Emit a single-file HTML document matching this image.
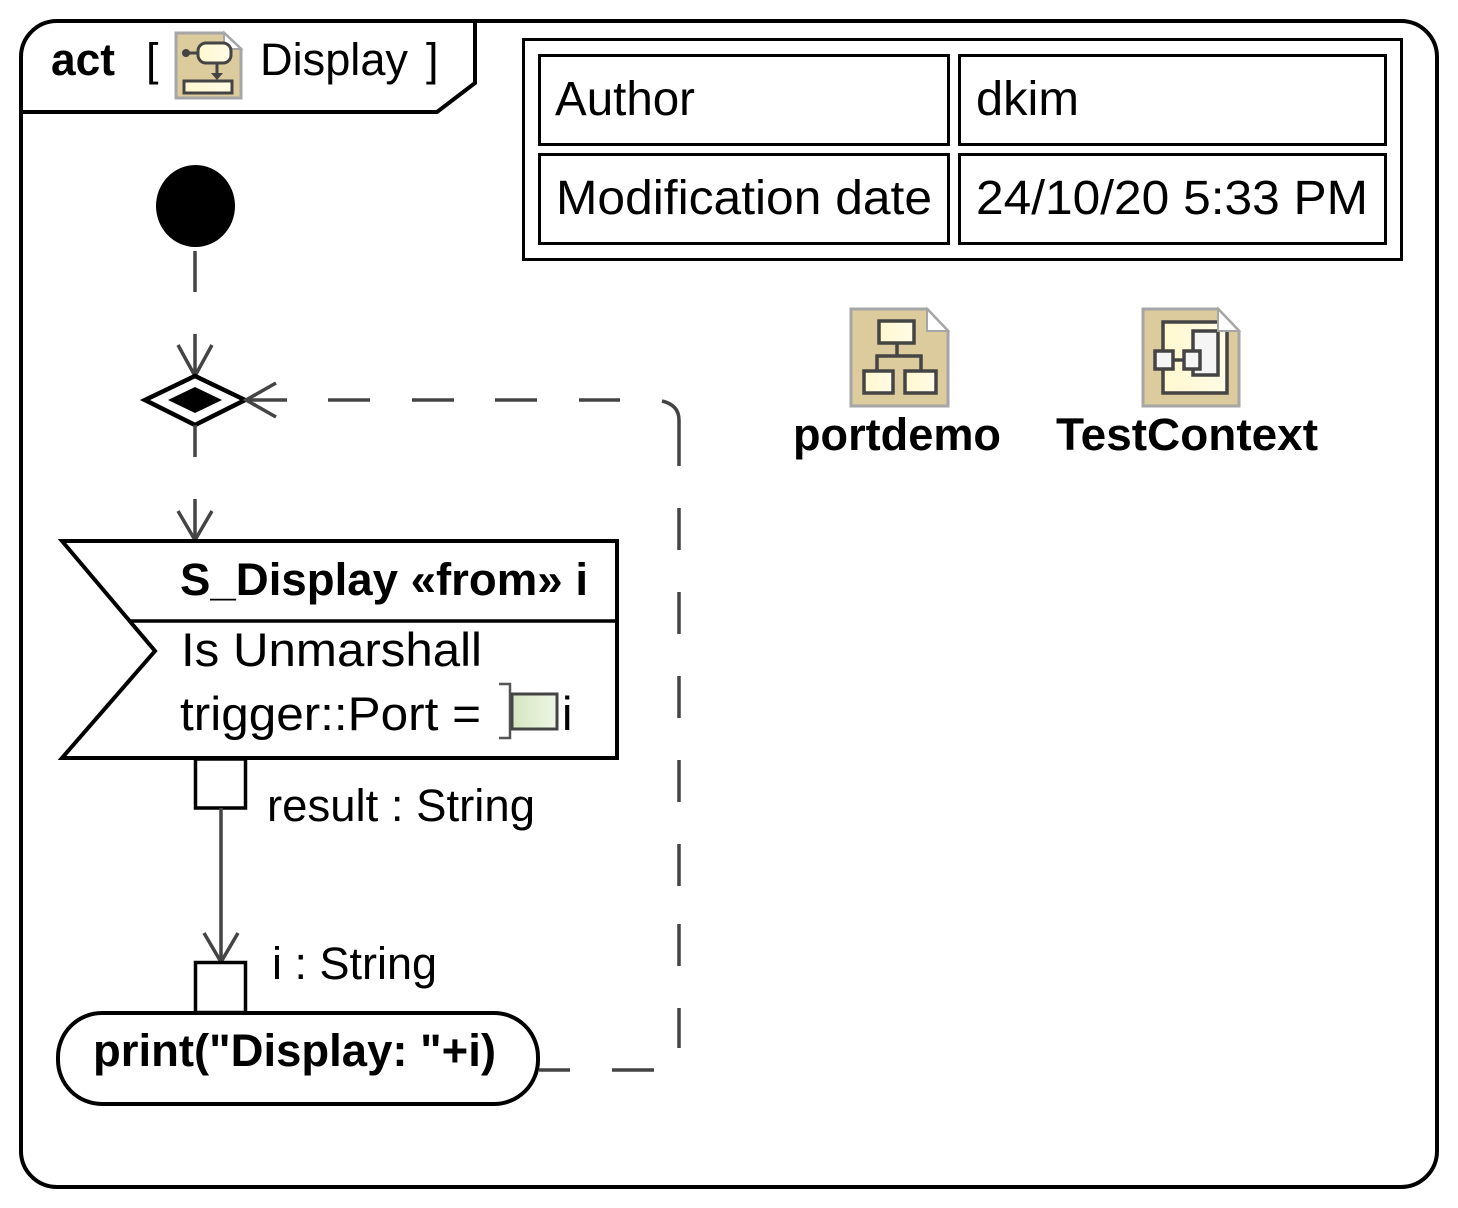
<!DOCTYPE html>
<html>
<head>
<meta charset="utf-8">
<style>
  html, body { margin:0; padding:0; background:#fff; }
  svg { display:block; }
  text { font-family: "Liberation Sans", Arial, sans-serif; fill:#000; }
  .b { font-weight:bold; }
</style>
</head>
<body>
<svg width="1458" height="1208" viewBox="0 0 1458 1208" xmlns="http://www.w3.org/2000/svg">
  <defs>
    <linearGradient id="ylw" x1="0" y1="0" x2="1" y2="0">
      <stop offset="0" stop-color="#fff8d0"/>
      <stop offset="1" stop-color="#fffbe6"/>
    </linearGradient>
    <linearGradient id="grn" x1="0" y1="0" x2="1" y2="0">
      <stop offset="0" stop-color="#d5e6c0"/>
      <stop offset="1" stop-color="#eef5e6"/>
    </linearGradient>
  </defs>

  <!-- Frame -->
  <rect x="21" y="21" width="1416" height="1166" rx="36" ry="36" fill="#fff" stroke="#000" stroke-width="4"/>
  <!-- Title tab -->
  <path d="M21,112 L437,112 L475,83 L475,21" fill="none" stroke="#000" stroke-width="4"/>
  <text x="51" y="75" class="b" font-size="45" textLength="64" lengthAdjust="spacingAndGlyphs">act</text>
  <text x="146" y="75" font-size="45">[</text>
  <!-- title icon -->
  <path d="M176,33 L224,33 L241,49 L241,98 L176,98 Z" fill="#dccb9c" stroke="#a6a6a6" stroke-width="3"/>
  <path d="M224,33 L224,49 L241,49 Z" fill="#fff" stroke="#a6a6a6" stroke-width="2"/>
  <circle cx="186" cy="53" r="4" fill="#444"/>
  <line x1="186" y1="53" x2="198" y2="53" stroke="#444" stroke-width="3"/>
  <rect x="198" y="43" width="33" height="20" rx="8" ry="8" fill="url(#ylw)" stroke="#444" stroke-width="3"/>
  <line x1="217" y1="63" x2="217" y2="76" stroke="#444" stroke-width="3"/>
  <path d="M211,73 L223,73 L217,80 Z" fill="#444"/>
  <rect x="184" y="81" width="48" height="12" fill="url(#ylw)" stroke="#444" stroke-width="3"/>
  <text x="260" y="75" font-size="45" textLength="148" lengthAdjust="spacingAndGlyphs">Display</text>
  <text x="426" y="75" font-size="45">]</text>

  <!-- Table -->
  <rect x="523.5" y="39.5" width="878" height="220" fill="#fff" stroke="#000" stroke-width="3"/>
  <rect x="539.5" y="55.5" width="409" height="89" fill="#fff" stroke="#000" stroke-width="3"/>
  <rect x="959.5" y="55.5" width="426" height="89" fill="#fff" stroke="#000" stroke-width="3"/>
  <rect x="539.5" y="154.5" width="409" height="89" fill="#fff" stroke="#000" stroke-width="3"/>
  <rect x="959.5" y="154.5" width="426" height="89" fill="#fff" stroke="#000" stroke-width="3"/>
  <text x="555" y="115" font-size="48" textLength="140" lengthAdjust="spacingAndGlyphs">Author</text>
  <text x="976" y="115" font-size="48" textLength="103" lengthAdjust="spacingAndGlyphs">dkim</text>
  <text x="556" y="214" font-size="48" textLength="376" lengthAdjust="spacingAndGlyphs">Modification date</text>
  <text x="976" y="214" font-size="48" textLength="392" lengthAdjust="spacingAndGlyphs">24/10/20 5:33 PM</text>

  <!-- portdemo icon -->
  <path d="M851,309 L927,309 L948,331 L948,406 L851,406 Z" fill="#dccb9c" stroke="#a6a6a6" stroke-width="3"/>
  <path d="M927,309 L927,331 L948,331 Z" fill="#fff" stroke="#a6a6a6" stroke-width="2"/>
  <rect x="879" y="321" width="35" height="22" fill="url(#ylw)" stroke="#444" stroke-width="3.5"/>
  <path d="M897,343 L897,356 M877,370 L877,356 L921,356 L921,370" fill="none" stroke="#444" stroke-width="3.5"/>
  <rect x="864" y="371" width="29" height="22" fill="url(#ylw)" stroke="#444" stroke-width="3.5"/>
  <rect x="905" y="371" width="31" height="22" fill="url(#ylw)" stroke="#444" stroke-width="3.5"/>
  <text x="793" y="450" class="b" font-size="45" textLength="208" lengthAdjust="spacingAndGlyphs">portdemo</text>

  <!-- TestContext icon -->
  <path d="M1143,309 L1218,309 L1239,331 L1239,406 L1143,406 Z" fill="#dccb9c" stroke="#a6a6a6" stroke-width="3"/>
  <rect x="1163" y="322" width="64" height="71" fill="url(#ylw)" stroke="#444" stroke-width="3.5"/>
  <rect x="1193" y="331" width="25" height="44" fill="#f5f5f5" stroke="#444" stroke-width="3.5"/>
  <line x1="1173" y1="360" x2="1184" y2="360" stroke="#444" stroke-width="3.5"/>
  <rect x="1155" y="351" width="18" height="18" fill="#f5f5f5" stroke="#444" stroke-width="3.5"/>
  <rect x="1184" y="351" width="16" height="18" fill="#f5f5f5" stroke="#444" stroke-width="3.5"/>
  <path d="M1218,309 L1218,331 L1239,331 Z" fill="#fff" stroke="#a6a6a6" stroke-width="2"/>
  <text x="1056" y="450" class="b" font-size="45" textLength="262" lengthAdjust="spacingAndGlyphs">TestContext</text>

  <!-- Initial node -->
  <ellipse cx="195.5" cy="206" rx="39.5" ry="41" fill="#000"/>

  <!-- flow initial -> decision -->
  <path d="M195,251 L195,292 M195,334 L195,375" stroke="#444" stroke-width="3.5" fill="none"/>
  <path d="M178,345 L195,376 L212,345" stroke="#444" stroke-width="3.5" fill="none"/>

  <!-- decision node -->
  <polygon points="145,400 195,376 245,400 195,425" fill="#fff" stroke="#000" stroke-width="4.5"/>
  <polygon points="168,400 195,387 222,400 195,413" fill="#000"/>

  <!-- flow decision -> accept -->
  <path d="M195,425 L195,457 M195,499 L195,539" stroke="#444" stroke-width="3.5" fill="none"/>
  <path d="M178,511 L195,540 L212,511" stroke="#444" stroke-width="3.5" fill="none"/>

  <!-- dashed return flow -->
  <path d="M246,400 L287,400 M328,400 L370,400 M412,400 L454,400 M495,400 L537,400 M579,400 L620,400" stroke="#444" stroke-width="3.5" fill="none"/>
  <path d="M662,401 Q679,405 679,420 L679,466" stroke="#444" stroke-width="3.5" fill="none"/>
  <path d="M679,508 L679,550 M679,592 L679,634 M679,676 L679,718 M679,760 L679,802 M679,844 L679,886 M679,924 L679,966 M679,1008 L679,1048" stroke="#444" stroke-width="3.5" fill="none"/>
  <path d="M654,1070 L612,1070 M570,1070 L539,1070" stroke="#444" stroke-width="3.5" fill="none"/>
  <path d="M276,383 L246,400 L276,417" stroke="#444" stroke-width="3.5" fill="none"/>

  <!-- Accept event action -->
  <polygon points="62,541 617,541 617,758 62,758 155,651" fill="#fff" stroke="#000" stroke-width="4"/>
  <line x1="129" y1="621" x2="617" y2="621" stroke="#000" stroke-width="3.5"/>
  <text x="180" y="595" class="b" font-size="45" textLength="408" lengthAdjust="spacingAndGlyphs">S_Display «from» i</text>
  <text x="181" y="666" font-size="47" textLength="301" lengthAdjust="spacingAndGlyphs">Is Unmarshall</text>
  <text x="180" y="730" font-size="47" textLength="301" lengthAdjust="spacingAndGlyphs">trigger::Port =</text>
  <path d="M499,684 L510,684 L510,738 L499,738" fill="none" stroke="#555" stroke-width="2.5"/>
  <rect x="512" y="694" width="45" height="35" fill="url(#grn)" stroke="#444" stroke-width="3"/>
  <text x="562" y="730" font-size="47">i</text>

  <!-- output pin -->
  <rect x="195.5" y="759" width="50" height="49" fill="#fff" stroke="#000" stroke-width="3.5"/>
  <text x="267" y="821" font-size="45" textLength="268" lengthAdjust="spacingAndGlyphs">result : String</text>

  <!-- object flow -->
  <line x1="221" y1="808" x2="221" y2="960" stroke="#444" stroke-width="3.5"/>
  <path d="M204,933 L221,962 L238,933" stroke="#444" stroke-width="3.5" fill="none"/>

  <!-- input pin -->
  <rect x="195.5" y="962.5" width="50" height="50" fill="#fff" stroke="#000" stroke-width="3.5"/>
  <text x="272" y="979" font-size="45" textLength="165" lengthAdjust="spacingAndGlyphs">i : String</text>

  <!-- action -->
  <rect x="58" y="1013" width="480" height="91" rx="44" ry="44" fill="#fff" stroke="#000" stroke-width="4"/>
  <text x="93" y="1066" class="b" font-size="45" textLength="403" lengthAdjust="spacingAndGlyphs">print("Display: "+i)</text>
</svg>
</body>
</html>
